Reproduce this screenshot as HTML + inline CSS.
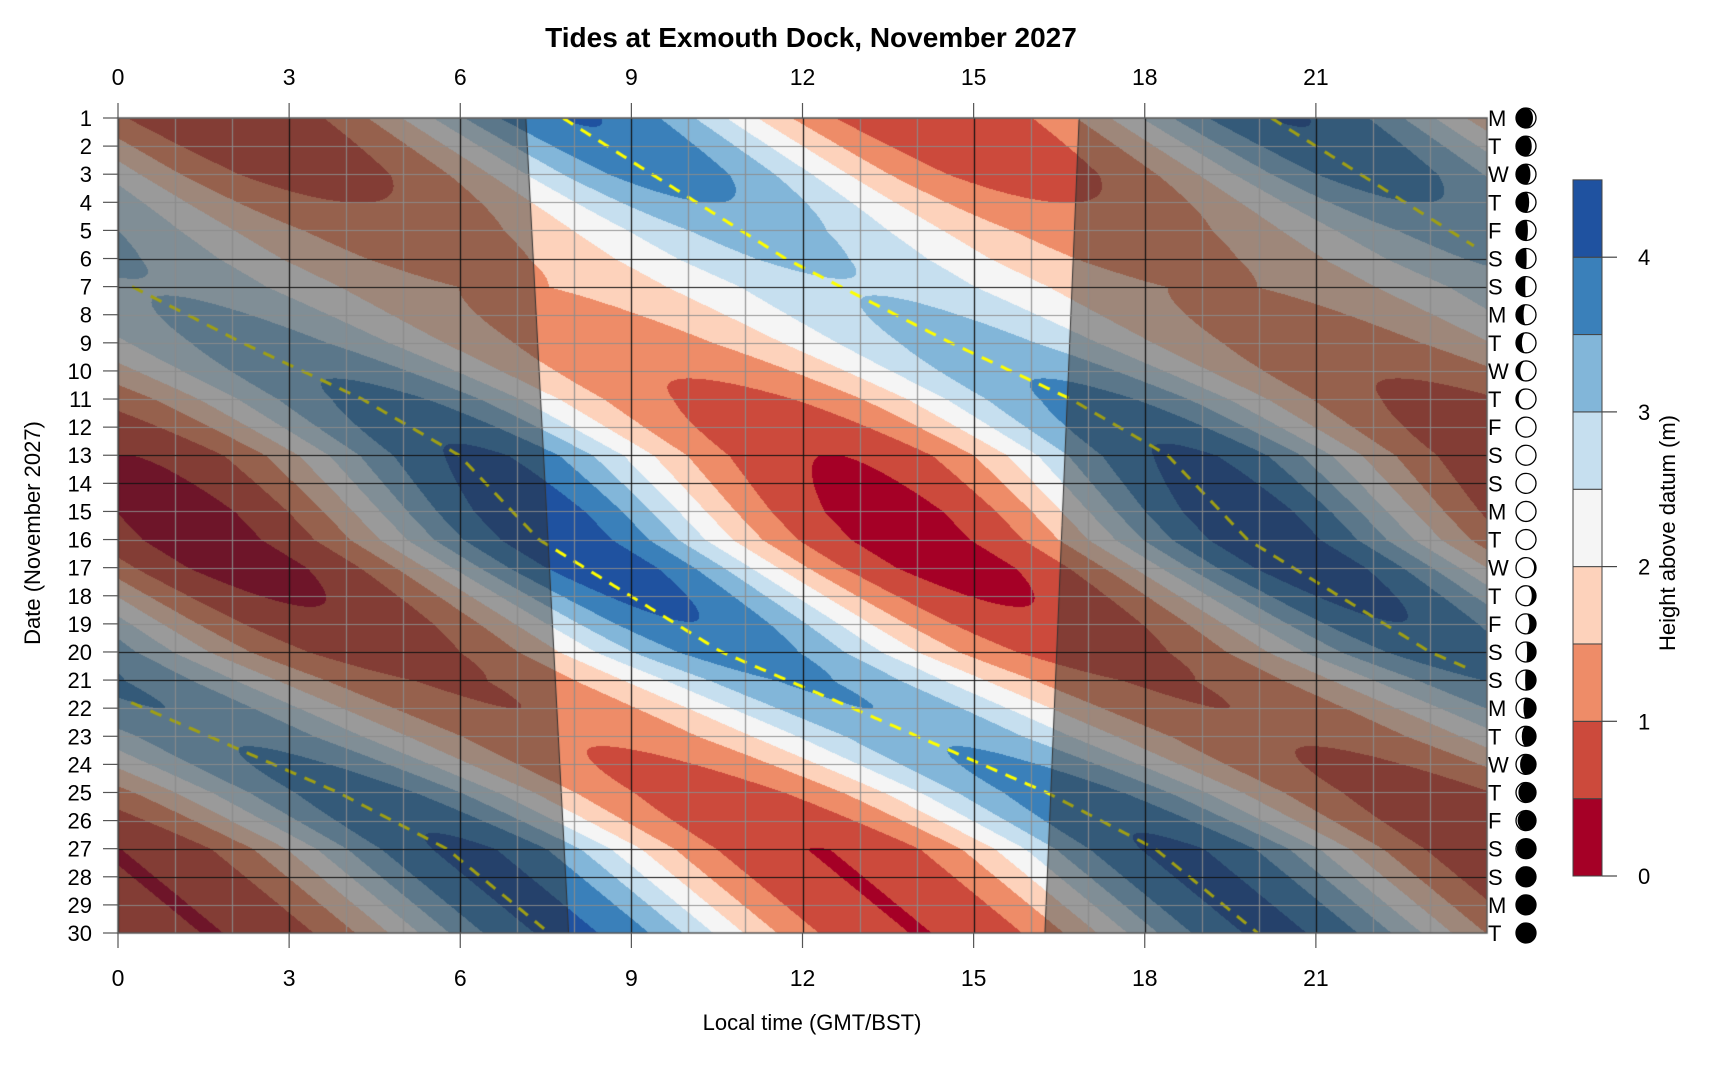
<!DOCTYPE html>
<html><head><meta charset="utf-8">
<style>
html,body{margin:0;padding:0;background:#fff;}
#wrap{position:relative;width:1720px;height:1080px;overflow:hidden;font-family:"Liberation Sans",Arial,sans-serif;}
canvas{position:absolute;left:0;top:0;}
svg{position:absolute;left:0;top:0;}
</style></head>
<body><div id="wrap">
<canvas id="c" width="1720" height="1080"></canvas>
<svg id="s" width="1720" height="1080" xmlns="http://www.w3.org/2000/svg" font-family="Liberation Sans, Arial, sans-serif"></svg>
</div>
<script>
const X0=118,X1=1487,Y0=118,Y1=933;
const PW=X1-X0, PH=Y1-Y0;
const hx=h=>X0+h*PW/24, dy=d=>Y0+(d-1)*PH/29;
const cols=['#a50026','#cc4a3c','#ee8c68','#fdd2bb','#f5f5f5','#c6dfef','#82b6d9','#3a80ba','#1f52a0'];
const rgb=cols.map(c=>[parseInt(c.substr(1,2),16),parseInt(c.substr(3,2),16),parseInt(c.substr(5,2),16)]);
function interp(pts,d){if(d<=pts[0][0])return pts[0][1];for(let i=1;i<pts.length;i++){if(d<=pts[i][0]){const a=pts[i-1],b=pts[i];return a[1]+(b[1]-a[1])*(d-a[0])/(b[0]-a[0]);}}return pts[pts.length-1][1];}
const Tp=[[1,7.8],[6,11.7],[9,14.6],[11,16.7],[13,18.4],[16,19.8],[17,20.6],[20,23.0],[22,25.3],[25,28.7],[27,30.6],[30,32.4]];
const Ap=[[1,1.75],[3,1.5],[5,1.0],[7,0.75],[9,1.0],[11,1.4],[13,1.8],[15,2.0],[17,2.0],[19,1.7],[21,1.3],[23,1.2],[25,1.5],[27,1.8],[30,1.8]];
const T=d=>interp(Tp,d), A=d=>interp(Ap,d);
const P=12.42;
function height(d,h){const ph=2*Math.PI*(h-T(d)-0.3)/P;return 2.15+A(d)*(Math.cos(ph)+0.08*Math.cos(2*ph));}
const cv=document.getElementById('c'),ctx=cv.getContext('2d');
ctx.fillStyle='#fff';ctx.fillRect(0,0,1720,1080);
const img=ctx.createImageData(PW,PH);
for(let y=0;y<PH;y++){const d=1+29*y/PH;for(let x=0;x<PW;x++){const h=24*x/PW;let v=height(d,h);let k=Math.floor(v/0.5);if(k<0)k=0;if(k>8)k=8;const c=rgb[k];const i=(y*PW+x)*4;img.data[i]=c[0];img.data[i+1]=c[1];img.data[i+2]=c[2];img.data[i+3]=255;}}
ctx.putImageData(img,X0,Y0);
ctx.save();ctx.beginPath();ctx.rect(X0,Y0,PW,PH);ctx.clip();
ctx.strokeStyle='#ffff00';ctx.lineWidth=3;ctx.setLineDash([12,9]);
for(let n=-3;n<=2;n++){ctx.beginPath();let started=false;
for(let d=1;d<=30.001;d+=0.05){const hh=T(d)+n*P;
 if(hh>=0.2&&hh<=23.8){if(!started){ctx.moveTo(hx(hh),dy(d));started=true;}else ctx.lineTo(hx(hh),dy(d));}else if(started){ctx.stroke();ctx.beginPath();started=false;}}
if(started)ctx.stroke();}
ctx.setLineDash([]);
ctx.fillStyle='rgba(46,46,46,0.46)';ctx.strokeStyle='#333';ctx.lineWidth=1;
ctx.beginPath();ctx.moveTo(X0,Y0);ctx.lineTo(hx(7.15),Y0);ctx.lineTo(hx(7.9),Y1);ctx.lineTo(X0,Y1);ctx.closePath();ctx.fill();
ctx.beginPath();ctx.moveTo(hx(7.15),Y0);ctx.lineTo(hx(7.9),Y1);ctx.stroke();
ctx.beginPath();ctx.moveTo(hx(16.85),Y0);ctx.lineTo(X1,Y0);ctx.lineTo(X1,Y1);ctx.lineTo(hx(16.25),Y1);ctx.closePath();ctx.fill();
ctx.beginPath();ctx.moveTo(hx(16.85),Y0);ctx.lineTo(hx(16.25),Y1);ctx.stroke();
ctx.lineWidth=1.2;
for(let h=0;h<=24;h++){if(h%3==0)continue;ctx.strokeStyle='rgba(140,140,140,0.9)';ctx.beginPath();ctx.moveTo(Math.round(hx(h))+0.5,Y0);ctx.lineTo(Math.round(hx(h))+0.5,Y1);ctx.stroke();}
const wk=[6,7,13,14,20,21,27,28];
for(let d=1;d<=30;d++){if(wk.includes(d))continue;ctx.strokeStyle='rgba(140,140,140,0.9)';ctx.beginPath();ctx.moveTo(X0,Math.round(dy(d))+0.5);ctx.lineTo(X1,Math.round(dy(d))+0.5);ctx.stroke();}
ctx.strokeStyle='#111';
for(let h=0;h<=21;h+=3){ctx.beginPath();ctx.moveTo(Math.round(hx(h))+0.5,Y0);ctx.lineTo(Math.round(hx(h))+0.5,Y1);ctx.stroke();}
for(const d of wk){ctx.beginPath();ctx.moveTo(X0,Math.round(dy(d))+0.5);ctx.lineTo(X1,Math.round(dy(d))+0.5);ctx.stroke();}
ctx.restore();
ctx.strokeStyle='#555';ctx.lineWidth=1.5;ctx.strokeRect(X0,Y0,PW,PH);
const s=document.getElementById('s');let o='';
o+=`<text x="811" y="47" font-size="28" font-weight="bold" text-anchor="middle">Tides at Exmouth Dock, November 2027</text>`;
for(let h=0;h<=21;h+=3){const x=hx(h);
o+=`<line x1="${x}" y1="103" x2="${x}" y2="${Y0}" stroke="#555" stroke-width="1.2"/>`;
o+=`<line x1="${x}" y1="${Y1}" x2="${x}" y2="948" stroke="#555" stroke-width="1.2"/>`;
o+=`<text x="${x}" y="85" font-size="23" text-anchor="middle">${h}</text>`;
o+=`<text x="${x}" y="986" font-size="23" text-anchor="middle">${h}</text>`;}
const wd=['M','T','W','T','F','S','S'];
const Fp=[[1,0.15],[6.5,0.5],[12,0.95],[13,1],[16,1],[17,0.9],[20.5,0.5],[25,0.12],[28,0],[30,0]];
for(let d=1;d<=30;d++){const y=dy(d);
o+=`<line x1="103" y1="${y}" x2="${X0}" y2="${y}" stroke="#555" stroke-width="1.2"/>`;
o+=`<text x="92" y="${y+8}" font-size="22" text-anchor="end">${d}</text>`;
o+=`<text x="1488" y="${y+8}" font-size="22">${wd[(d-1)%7]}</text>`;
const cx=1526,r=10,f=interp(Fp,d),wax=d<14.5;
o+=`<circle cx="${cx}" cy="${y}" r="${r}" fill="#000"/>`;
const sweep=wax?1:0;
o+=`<path d="M${cx},${y-r} A${r},${r} 0 0 ${sweep} ${cx},${y+r} Z" fill="#fff"/>`;
const rx=Math.abs(1-2*f)*r;
o+=`<ellipse cx="${cx}" cy="${y}" rx="${rx}" ry="${r}" fill="${f<0.5?'#000':'#fff'}"/>`;
o+=`<circle cx="${cx}" cy="${y}" r="${r}" fill="none" stroke="#000" stroke-width="1.3"/>`;}
o+=`<text x="812" y="1030" font-size="22" text-anchor="middle">Local time (GMT/BST)</text>`;
o+=`<text transform="translate(40,533) rotate(-90)" font-size="22" text-anchor="middle">Date (November 2027)</text>`;
const CB0=876,per=154.7,cx0=1573,cw=29;
for(let k=0;k<9;k++){const yt=CB0-(k+1)*0.5*per;o+=`<rect x="${cx0}" y="${yt}" width="${cw}" height="${0.5*per}" fill="${cols[k]}" stroke="#444" stroke-width="1"/>`;}
for(let v=0;v<=4;v++){const y=CB0-v*per;o+=`<line x1="${cx0+cw}" y1="${y}" x2="${cx0+cw+15}" y2="${y}" stroke="#444" stroke-width="1.2"/>`;o+=`<text x="1638" y="${y+8}" font-size="22">${v}</text>`;}
o+=`<text transform="translate(1675,533) rotate(-90)" font-size="22" text-anchor="middle">Height above datum (m)</text>`;
s.innerHTML=o;
</script>
</body></html>
